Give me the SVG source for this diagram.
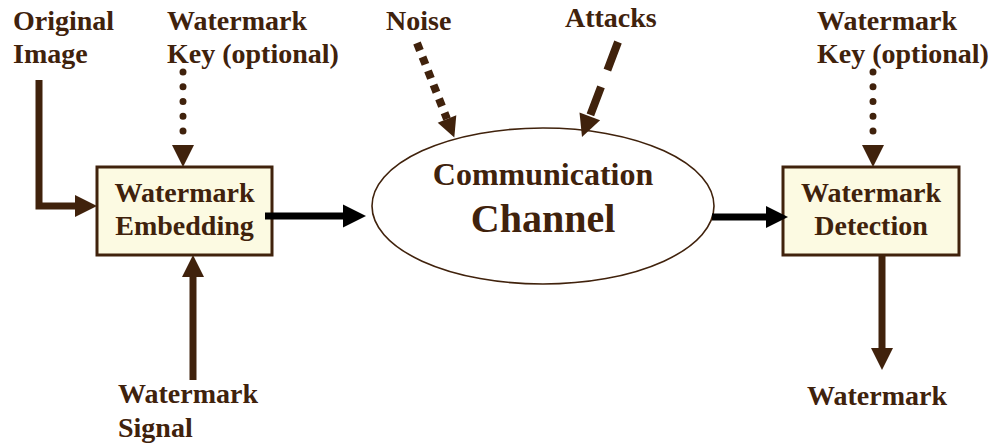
<svg xmlns="http://www.w3.org/2000/svg" width="997" height="445" viewBox="0 0 997 445">
  <style>
    text { font-family: "Liberation Serif", "Times New Roman", serif; font-weight: bold; fill: #40220c; }
    .lbl { font-size: 28px; }
    .mid { text-anchor: middle; }
    .box { fill: #fcfae2; stroke: #40220c; stroke-width: 3; }
    .chan { fill: #ffffff; stroke: #40220c; stroke-width: 1.6; }
    .solid { fill: none; stroke: #40220c; stroke-width: 7; stroke-linejoin: miter; }
    .black { fill: none; stroke: #000000; stroke-width: 7; }
    .dots { fill: none; stroke: #40220c; stroke-width: 7; stroke-linecap: round; stroke-dasharray: 0 14.75; }
    .sq { fill: none; stroke: #40220c; stroke-width: 8; stroke-dasharray: 8 7; }
    .dash { fill: none; stroke: #40220c; stroke-width: 8; stroke-dasharray: 30 18; }
    .head { fill: #40220c; }
    .headk { fill: #000000; }
  </style>

  <!-- free-standing labels -->
  <g id="original-image">
    <text class="lbl" x="13" y="30">Original</text>
    <text class="lbl" x="13" y="63">Image</text>
  </g>
  <g id="key-embed">
    <text class="lbl" x="167" y="30">Watermark</text>
    <text class="lbl" x="167" y="63">Key (optional)</text>
  </g>
  <g id="noise">
    <text class="lbl" x="386" y="30">Noise</text>
  </g>
  <g id="attacks">
    <text class="lbl" x="565" y="27">Attacks</text>
  </g>
  <g id="key-detect">
    <text class="lbl" x="817" y="30">Watermark</text>
    <text class="lbl" x="817" y="63">Key (optional)</text>
  </g>
  <g id="watermark-signal">
    <text class="lbl" x="118" y="403">Watermark</text>
    <text class="lbl" x="118" y="437">Signal</text>
  </g>
  <g id="watermark-out">
    <text class="lbl" x="807" y="405">Watermark</text>
  </g>

  <!-- processing nodes -->
  <g id="embedding">
    <rect class="box" x="97" y="167" width="175" height="88"/>
    <text class="lbl mid" x="184.5" y="202">Watermark</text>
    <text class="lbl mid" x="184.5" y="235">Embedding</text>
  </g>
  <g id="channel">
    <ellipse class="chan" cx="543" cy="206" rx="171" ry="78"/>
    <text class="mid" x="543" y="185" font-size="32">Communication</text>
    <text class="mid" x="543" y="232" font-size="40">Channel</text>
  </g>
  <g id="detection">
    <rect class="box" x="783" y="167" width="176" height="88"/>
    <text class="lbl mid" x="871" y="202">Watermark</text>
    <text class="lbl mid" x="871" y="235">Detection</text>
  </g>

  <!-- connectors -->
  <g id="connectors">
    <!-- original image into embedding -->
    <polyline class="solid" points="39,80 39,206 76,206"/>
    <polygon class="head" points="75,195 75,217 97,206"/>
    <!-- key into embedding -->
    <line class="dots" x1="183" y1="72" x2="183" y2="132"/>
    <polygon class="head" points="172,145 194,145 183,167"/>
    <!-- signal into embedding -->
    <line class="solid" x1="193" y1="380" x2="193" y2="276"/>
    <polygon class="head" points="182,277 204,277 193,255"/>
    <!-- embedding to channel -->
    <line class="black" x1="265" y1="216" x2="344" y2="216"/>
    <polygon class="headk" points="343,204.5 343,227.5 366,216"/>
    <!-- noise into channel -->
    <line class="sq" x1="417" y1="43" x2="447" y2="119"/>
    <polygon class="head" points="437.7,122.7 456.3,115.3 454.3,137.6"/>
    <!-- attacks into channel -->
    <line class="dash" x1="618" y1="42" x2="590" y2="116"/>
    <polygon class="head" points="579.5,112.5 600.1,120.3 582,137"/>
    <!-- channel to detection -->
    <line class="black" x1="712" y1="217" x2="767" y2="217"/>
    <polygon class="headk" points="766,206 766,228 788,217"/>
    <!-- key into detection -->
    <line class="dots" x1="873" y1="72" x2="873" y2="133"/>
    <polygon class="head" points="862,145 884,145 873,167"/>
    <!-- detection output -->
    <line class="solid" x1="882" y1="255" x2="882" y2="349"/>
    <polygon class="head" points="871,348 893,348 882,370"/>
  </g>
</svg>
